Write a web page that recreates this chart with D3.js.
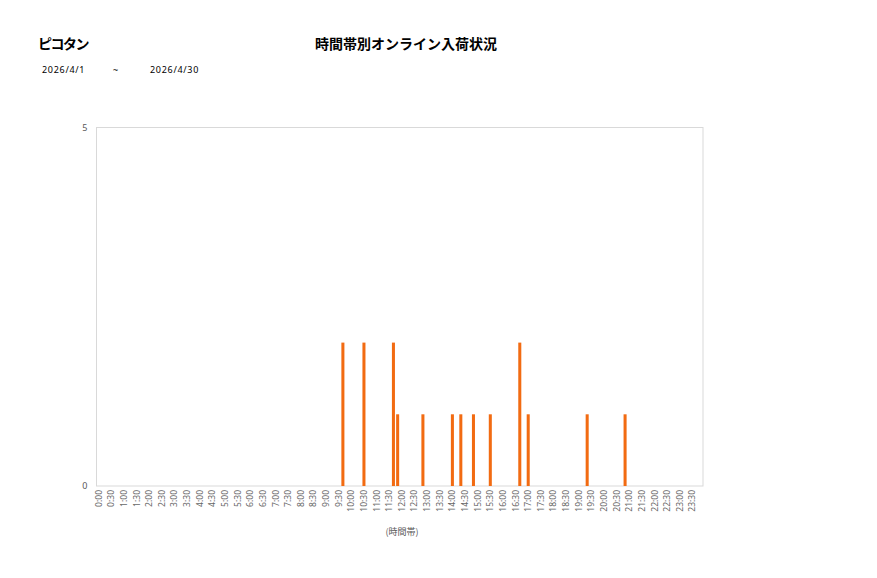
<!DOCTYPE html>
<html><head><meta charset="utf-8">
<script src="https://cdn.jsdelivr.net/npm/d3@7"></script>
<style>
body{margin:0;background:#fff;}
svg{display:block;}
</style></head>
<body>
<script>
const shopName = "ピコタン";
const chartTitle = "時間帯別オンライン入荷状況";
const dateFrom = "2026/4/1";
const dateTo = "2026/4/30";
const axisTitle = "(時間帯)";
const tickLabels = ["0:00","0:30","1:00","1:30","2:00","2:30","3:00","3:30","4:00","4:30","5:00","5:30","6:00","6:30","7:00","7:30","8:00","8:30","9:00","9:30","10:00","10:30","11:00","11:30","12:00","12:30","13:00","13:30","14:00","14:30","15:00","15:30","16:00","16:30","17:00","17:30","18:00","18:30","19:00","19:30","20:00","20:30","21:00","21:30","22:00","22:30","23:00","23:30"];
const arrivalTimes = ["9:40","10:30","11:40","11:50","12:50","14:00","14:20","14:50","15:30","16:40","17:00","19:20","20:50"];
const arrivalCounts = [2,2,2,1,1,1,1,1,1,2,1,1,1];
const yTicks = [0,5];

(function(){
// 10-minute slots
const slots = [];
for (let h = 0; h < 24; h++) for (let m = 0; m < 60; m += 10) slots.push(h + ":" + String(m).padStart(2,"0"));

const W = 877, H = 578;
const svg = d3.select("body").append("svg").attr("width", W).attr("height", H);
const pL = 96.5, pR = 703, pT = 127.5, pB = 486;

const x = d3.scaleBand().domain(slots).range([pL, pR]).paddingInner(0.28).paddingOuter(0.14);
const y = d3.scaleLinear().domain([0,5]).range([pB, pT]);

svg.append("rect").attr("x", pL).attr("y", pT).attr("width", pR-pL).attr("height", pB-pT)
  .attr("fill","none").attr("stroke","#d9d9d9").attr("stroke-width",1);

const data = arrivalTimes.map((t,i)=>({t, v: arrivalCounts[i]}));
svg.selectAll("rect.bar").data(data).enter().append("rect").attr("class","bar")
  .attr("x", d => x(d.t)).attr("width", x.bandwidth())
  .attr("y", d => y(d.v)).attr("height", d => y(0) - y(d.v))
  .attr("fill", "#f26b12");

// y axis labels
const yAxis = d3.axisLeft(y).tickValues(yTicks).tickSize(0).tickPadding(9).tickFormat(d3.format("d"));
const gy = svg.append("g").attr("transform", `translate(${pL},0)`).call(yAxis);
gy.select(".domain").remove();
gy.selectAll("text").attr("fill","#595959").style("font-family","'Noto Sans', sans-serif").style("font-size","9px");

// x axis labels
const gx = svg.append("g");
gx.selectAll("text").data(tickLabels).enter().append("text")
  .attr("transform", d => `translate(${x(d) + x.bandwidth()/2 + 3},${pB + 4}) rotate(-90)`)
  .attr("text-anchor","end")
  .attr("fill","#666")
  .style("font-family","'Noto Sans', sans-serif").style("font-size","8.5px")
  .text(d => d);

svg.append("text").attr("x", 402).attr("y", 535).attr("text-anchor","middle")
  .attr("fill","#595959").style("font-family","'Noto Sans CJK JP', sans-serif").style("font-size","9px").text(axisTitle);

svg.append("text").attr("x", 38).attr("y", 49).attr("fill","#000")
  .style("font-family","'Noto Sans CJK JP', sans-serif").style("font-size","14px").style("font-weight","bold")
  .style("letter-spacing","-1.5px").text(shopName);
svg.append("text").attr("x", 406).attr("y", 49).attr("text-anchor","middle").attr("fill","#000")
  .style("font-family","'Noto Sans CJK JP', sans-serif").style("font-size","14px").style("font-weight","bold").text(chartTitle);

[[42,dateFrom],[113,"~"],[150,dateTo]].forEach(([px,t])=>{
  svg.append("text").attr("x",px).attr("y",73).attr("fill","#000")
    .style("font-family","'Noto Sans', sans-serif").style("font-size","9px").style("letter-spacing","0.7px").text(t);
});
})();
</script>
</body></html>
